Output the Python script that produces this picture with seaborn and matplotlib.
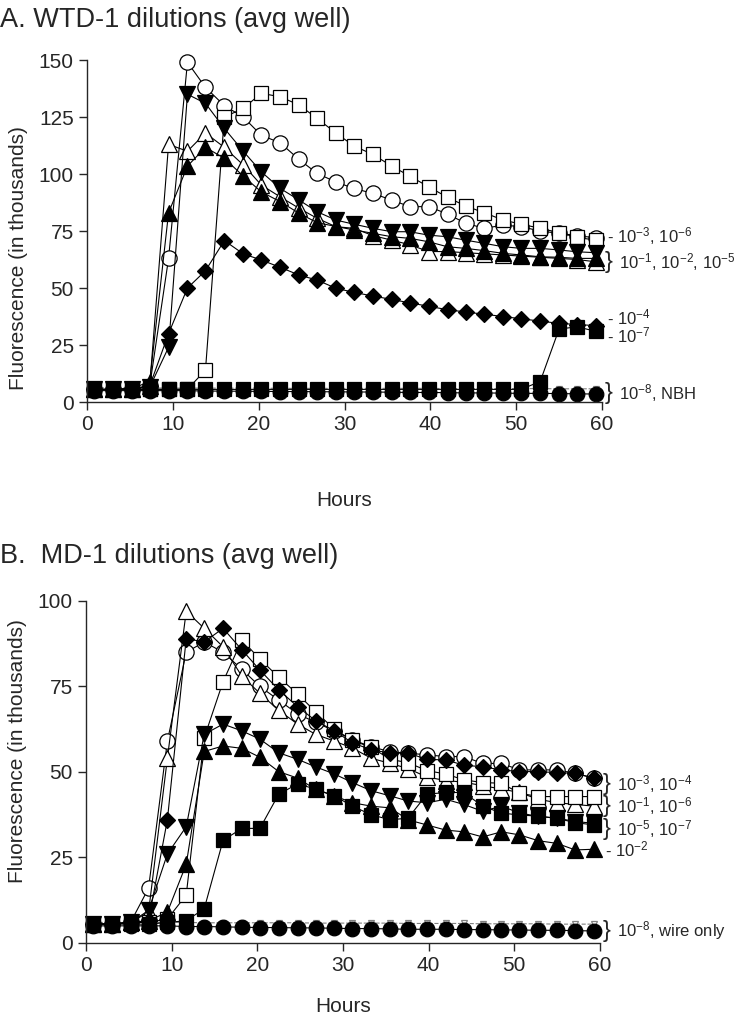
import matplotlib
matplotlib.use('Agg')
import matplotlib.pyplot as plt
import seaborn as sns

# ==========================================
# DATA
# ==========================================
hours = [0.8, 3.0, 5.2, 7.3, 9.5, 11.7, 13.8, 16.0, 18.2, 20.3, 22.5, 24.7, 26.8, 29.0,
         31.1, 33.3, 35.5, 37.6, 39.8, 42.0, 44.1, 46.3, 48.5, 50.6, 52.8, 55.0, 57.1, 59.3]

# --- Panel A: WTD-1 ---
a_e3 = [5.5, 5.5, 5.8, 7.0, 63, 149, 138, 130, 125, 117, 113.7, 106.4, 100.3, 96.5,
        93.7, 91.5, 88.6, 85.7, 85.7, 82.5, 78.4, 76.2, 77.6, 76.9, 75.0, 74.0, 73.0, 72.0]
a_e6 = [5.5, 5.6, 5.5, 5.6, 5.5, 5.6, 14, 125, 128.8, 135.4, 133.9, 130.3, 124.4, 118,
        112.3, 108.6, 103.5, 99.1, 94.4, 89.8, 86.0, 83.0, 79.8, 78.0, 76.2, 74.3, 72.2, 71.0]
a_e1 = [5.5, 5.5, 5.8, 7.0, 113, 110, 118, 111.7, 104, 95.2, 90, 85, 80.6, 76.9,
        76.2, 73.0, 71.0, 69.0, 66.0, 66.0, 65.5, 65.0, 64.5, 64.0, 63.5, 63.0, 62.5, 61.5]
a_e2 = [5.5, 5.5, 5.8, 9.0, 83, 103.5, 111.7, 106.9, 99.1, 92.2, 87.9, 82.8, 78.7, 77.0,
        75.5, 74.0, 72.5, 71.8, 70.3, 68.1, 67.4, 66.4, 65.2, 64.5, 63.7, 63.5, 63.0, 63.0]
a_e5 = [5.5, 5.5, 5.8, 6.5, 24, 135, 131, 120, 110, 101, 93.7, 88.6, 83.5, 79.8,
        78.0, 76.2, 74.7, 74.7, 73.2, 72.5, 71.0, 69.6, 68.1, 67.4, 67.4, 66.7, 65.9, 65.5]
a_e4 = [5.5, 5.5, 5.8, 7.0, 30, 50, 57.6, 70.8, 65, 62.3, 59.1, 55.7, 53.5, 49.9,
        48.1, 46.5, 45.0, 43.5, 42.0, 40.5, 39.5, 38.5, 37.5, 36.5, 35.5, 34.5, 34.0, 33.5]
a_e7 = [5.5, 5.6, 5.5, 5.6, 5.5, 5.6, 5.5, 5.6, 5.5, 5.6, 5.5, 5.6, 5.5, 5.6,
        5.5, 5.6, 5.5, 5.6, 5.5, 5.6, 5.5, 5.6, 5.5, 5.6, 9.0, 32.0, 33.0, 31.0]
a_e8 = [5.0, 5.0, 5.0, 5.0, 5.0, 5.0, 4.8, 4.8, 4.7, 4.7, 4.6, 4.6, 4.5, 4.5,
        4.4, 4.4, 4.3, 4.2, 4.2, 4.1, 4.0, 4.0, 3.9, 3.8, 3.8, 3.7, 3.6, 3.5]
a_nbh = [6.2, 6.2, 6.2, 6.2, 6.1, 6.1, 6.1, 6.1, 6.1, 6.1, 6.0, 6.0, 6.0, 6.0,
         6.0, 6.0, 6.0, 6.0, 6.0, 5.9, 5.9, 5.9, 5.9, 5.9, 5.9, 5.8, 5.8, 5.8]

a_label_text = ['10$^{-3}$, 10$^{-6}$', '10$^{-1}$, 10$^{-2}$, 10$^{-5}$',
                '10$^{-4}$', '10$^{-7}$', '10$^{-8}$, NBH']
a_label_y = [72.8, 61.5, 37.2, 29.0, 3.9]
a_label_mark = ['-', '}', '-', '-', '}']

# --- Panel B: MD-1 ---
b_e3 = [5.5, 5.5, 6.0, 16, 59, 85, 88, 85, 80, 75, 71, 67, 64.5, 62,
        59.4, 57.4, 55.9, 55.5, 55.0, 54.5, 54.5, 52.5, 52.5, 50.6, 50.6, 50.6, 49.6, 48.2]
b_e4 = [5.5, 5.5, 6.0, 6.5, 36, 89, 88, 92, 85.7, 79.8, 74, 69.1, 65, 62,
        58.5, 56.5, 55.5, 55.5, 53.7, 53.5, 52.0, 51.5, 50.6, 50.1, 50.1, 49.8, 49.6, 48.2]
b_e1 = [5.5, 5.5, 6.0, 9.0, 54, 97, 92, 86.6, 78, 73, 68, 64, 61, 59,
        57.0, 54.0, 52.5, 51.0, 48.5, 47.5, 47.0, 46.0, 45.0, 44.0, 42.0, 41.0, 40.5, 40.0]
b_e6 = [5.5, 5.5, 6.0, 6.0, 7.0, 14, 60, 76.4, 88.6, 83, 77.7, 72.8, 67.6, 62.5,
        59.2, 57.2, 53.7, 52.7, 50.4, 49.4, 47.7, 46.9, 46.7, 43.8, 42.8, 42.8, 42.8, 42.8]
b_e5 = [5.5, 5.5, 6.0, 9.5, 26, 34, 61, 64, 62, 59.6, 55.6, 53.7, 51.5, 49.4,
        46.9, 44.5, 43.0, 41.5, 41.0, 42.0, 40.5, 38.5, 40.0, 38.0, 37.0, 36.5, 35.5, 35.0]
b_e2 = [5.5, 5.5, 6.0, 6.5, 9.0, 23, 56, 57.6, 56.9, 54.3, 50.1, 48.2, 44.9, 43,
        41.0, 40.0, 39.5, 36.0, 34.5, 33.0, 32.5, 31.0, 32.5, 31.6, 29.9, 29.1, 27.2, 27.4]
b_e7 = [5.5, 5.5, 5.5, 5.5, 6.0, 6.5, 10, 30, 33.5, 33.5, 43.5, 46.5, 45, 43,
        40.0, 37.5, 36.0, 36.5, 43.5, 44.0, 44.0, 40.0, 38.0, 37.4, 37.1, 36.4, 35.2, 34.5]
b_e8 = [5.0, 5.0, 5.0, 5.0, 5.0, 4.8, 4.8, 4.7, 4.6, 4.5, 4.5, 4.4, 4.4, 4.3,
        4.2, 4.2, 4.1, 4.0, 4.0, 4.0, 3.9, 3.9, 3.8, 3.8, 3.7, 3.7, 3.6, 3.5]
b_wire = [6.0, 6.0, 6.0, 6.0, 6.0, 6.0, 5.9, 5.9, 5.9, 5.9, 5.9, 5.9, 5.8, 5.8,
          5.8, 5.8, 5.8, 5.7, 5.7, 5.7, 5.7, 5.6, 5.6, 5.6, 5.6, 5.5, 5.5, 5.5]

b_label_text = ['10$^{-3}$, 10$^{-4}$', '10$^{-1}$, 10$^{-6}$', '10$^{-5}$, 10$^{-7}$',
                '10$^{-2}$', '10$^{-8}$, wire only']
b_label_y = [46.5, 40.0, 33.3, 27.2, 3.5]
b_label_mark = ['}', '}', '}', '-', '}']

# ==========================================
# STYLE
# ==========================================
sns.set_style("ticks")
plt.rcParams['font.family'] = ['Liberation Sans', 'DejaVu Sans']
plt.rcParams['mathtext.default'] = 'regular'

fig = plt.figure(figsize=(7.42, 10.16), dpi=100)
ax_a = fig.add_axes([0.1173, 0.6043, 0.694, 0.3366])
ax_b = fig.add_axes([0.1159, 0.0719, 0.6927, 0.3366])


def draw(ax, y, marker, face, size=10.5, edge='black', ls='-', lw=0.8):
    sns.lineplot(x=hours, y=y, ax=ax, estimator=None, color=edge, linestyle=ls,
                 linewidth=lw, marker=marker, markersize=size, markerfacecolor=face,
                 markeredgecolor=edge, markeredgewidth=0.9, clip_on=False)


# --- Panel A ---
draw(ax_a, a_nbh, 'v', 'white', size=5, edge='#808080', ls='--')
draw(ax_a, a_e8, 'o', 'black')
draw(ax_a, a_e3, 'o', 'white', size=11)
draw(ax_a, a_e6, 's', 'white')
draw(ax_a, a_e1, '^', 'white', size=11)
draw(ax_a, a_e2, '^', 'black', size=11)
draw(ax_a, a_e5, 'v', 'black', size=11)
draw(ax_a, a_e4, 'D', 'black', size=8)
draw(ax_a, a_e7, 's', 'black')

# --- Panel B ---
draw(ax_b, b_wire, 'v', 'white', size=5, edge='#808080', ls='--')
draw(ax_b, b_e8, 'o', 'black')
draw(ax_b, b_e3, 'o', 'white', size=11)
draw(ax_b, b_e1, '^', 'white', size=11)
draw(ax_b, b_e6, 's', 'white')
draw(ax_b, b_e4, 'D', 'black', size=8)
draw(ax_b, b_e2, '^', 'black', size=11)
draw(ax_b, b_e5, 'v', 'black', size=11)
draw(ax_b, b_e7, 's', 'black')

panels = [(ax_a, 150, a_label_text, a_label_y, a_label_mark, 41, 0.42),
          (ax_b, 100, b_label_text, b_label_y, b_label_mark, 16, 0.56)]
for ax, ymax, labels, ys, marks, xpad, ylab_pos in panels:
    ax.set_xlim(0, 60)
    ax.set_ylim(0, ymax)
    ax.set_xticks(range(0, 61, 10))
    ax.set_yticks(range(0, ymax + 1, 25))
    ax.tick_params(labelsize=15, length=6, width=1, direction='out')
    for s in ['left', 'bottom']:
        ax.spines[s].set_linewidth(1)
    sns.despine(ax=ax)
    ax.set_xlabel('Hours', fontsize=15, labelpad=xpad)
    ax.set_ylabel('Fluorescence (in thousands)', fontsize=15)
    ax.yaxis.set_label_coords(-0.115, ylab_pos)
    for txt, yv, mk in zip(labels, ys, marks):
        if mk == '}':
            ax.text(60.3, yv, '}', fontsize=17, va='center', ha='left', clip_on=False)
            ax.text(62.0, yv, txt, fontsize=12, va='center', ha='left', clip_on=False)
        else:
            ax.text(60.6, yv, '- ' + txt, fontsize=12, va='center', ha='left', clip_on=False)

fig.text(0.0, 1 - 20 / 1016, 'A. WTD-1 dilutions (avg well)', fontsize=19.5, va='center', ha='left')
fig.text(0.0, 1 - 556 / 1016, 'B.  MD-1 dilutions (avg well)', fontsize=19.5, va='center', ha='left')

fig.savefig('out.png', dpi=100)
